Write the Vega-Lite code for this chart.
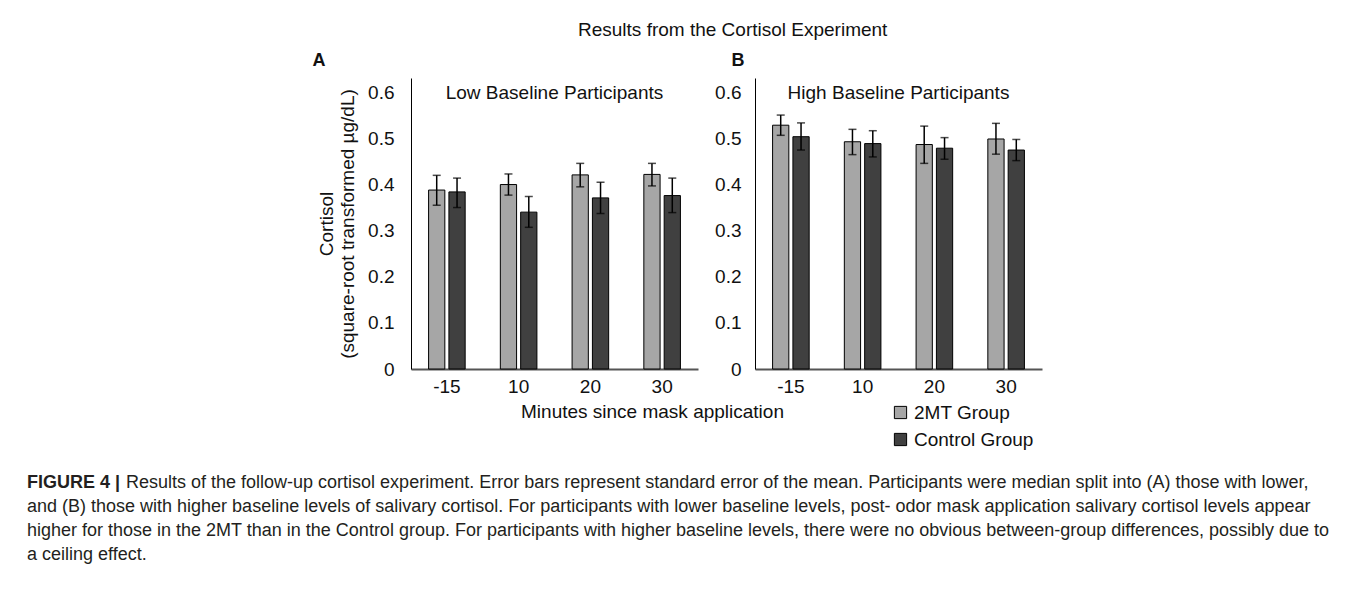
{
  "$schema": "https://vega.github.io/schema/vega-lite/v6.json",
  "background": "white",
  "padding": {"left": 27, "top": 21, "right": 5, "bottom": 5},
  "title": {"text": "Results from the Cortisol Experiment", "fontSize": 19, "fontWeight": "normal", "font": "Liberation Sans", "color": "#111111", "anchor": "start", "dx": 551, "offset": 12},
  "config": {
    "font": "Liberation Sans",
    "view": {"stroke": null},
    "axis": {"grid": false, "ticks": false, "labelFontSize": 19, "labelColor": "#111111", "titleFontSize": 19, "titleFontWeight": "normal", "titleColor": "#111111", "labelFont": "Liberation Sans", "titleFont": "Liberation Sans"},
    "title": {"font": "Liberation Sans", "color": "#111111"}
  },
  "datasets": {
    "bars": [
      {"panel": "A", "time": "-15", "group": "2MT Group", "mean": 0.389, "lo": 0.356, "hi": 0.421},
      {"panel": "A", "time": "-15", "group": "Control Group", "mean": 0.385, "lo": 0.351, "hi": 0.415},
      {"panel": "A", "time": "10", "group": "2MT Group", "mean": 0.401, "lo": 0.378, "hi": 0.424},
      {"panel": "A", "time": "10", "group": "Control Group", "mean": 0.341, "lo": 0.308, "hi": 0.375},
      {"panel": "A", "time": "20", "group": "2MT Group", "mean": 0.422, "lo": 0.396, "hi": 0.447},
      {"panel": "A", "time": "20", "group": "Control Group", "mean": 0.372, "lo": 0.338, "hi": 0.406},
      {"panel": "A", "time": "30", "group": "2MT Group", "mean": 0.423, "lo": 0.398, "hi": 0.447},
      {"panel": "A", "time": "30", "group": "Control Group", "mean": 0.377, "lo": 0.340, "hi": 0.415},
      {"panel": "B", "time": "-15", "group": "2MT Group", "mean": 0.530, "lo": 0.508, "hi": 0.552},
      {"panel": "B", "time": "-15", "group": "Control Group", "mean": 0.505, "lo": 0.476, "hi": 0.535},
      {"panel": "B", "time": "10", "group": "2MT Group", "mean": 0.494, "lo": 0.466, "hi": 0.521},
      {"panel": "B", "time": "10", "group": "Control Group", "mean": 0.490, "lo": 0.461, "hi": 0.518},
      {"panel": "B", "time": "20", "group": "2MT Group", "mean": 0.488, "lo": 0.447, "hi": 0.528},
      {"panel": "B", "time": "20", "group": "Control Group", "mean": 0.480, "lo": 0.456, "hi": 0.503},
      {"panel": "B", "time": "30", "group": "2MT Group", "mean": 0.500, "lo": 0.467, "hi": 0.534},
      {"panel": "B", "time": "30", "group": "Control Group", "mean": 0.476, "lo": 0.453, "hi": 0.499}
    ],
    "caption": [
      {"line": 1, "part": "rest", "text": "Results of the follow-up cortisol experiment. Error bars represent standard error of the mean. Participants were median split into (A) those with lower,"},
      {"line": 2, "part": "full", "text": "and (B) those with higher baseline levels of salivary cortisol. For participants with lower baseline levels, post- odor mask application salivary cortisol levels appear"},
      {"line": 3, "part": "full", "text": "higher for those in the 2MT than in the Control group. For participants with higher baseline levels, there were no obvious between-group differences, possibly due to"},
      {"line": 4, "part": "full", "text": "a ceiling effect."},
      {"line": 1, "part": "head", "text": "FIGURE 4 |"}
    ]
  },
  "vconcat": [
    {
      "title": {"text": "Minutes since mask application", "orient": "bottom", "anchor": "middle", "fontSize": 19, "fontWeight": "normal", "dx": 118, "offset": 7},
      "spacing": 16,
      "hconcat": [
        {
          "width": 269,
          "height": 10,
          "data": {"values": []},
          "mark": "point",
          "encoding": {}
        },
        {
          "title": {"text": "A", "anchor": "start", "fontSize": 18, "fontWeight": "bold", "offset": 8, "dx": -5},
          "vconcat": [
            {
              "width": 287,
              "height": 291,
              "title": {"text": "Low Baseline Participants", "fontSize": 19, "fontWeight": "normal", "anchor": "middle", "frame": "group", "offset": -25},
              "data": {"name": "bars"},
              "transform": [{"filter": "datum.panel === 'A'"}],
              "encoding": {
                "x": {"field": "time", "type": "ordinal", "sort": ["-15", "10", "20", "30"], "scale": {"paddingInner": 0.49, "paddingOuter": 0.245}, "axis": {"title": null, "labelAngle": 0, "domainColor": "#555555", "domainWidth": 2, "labelPadding": 8}},
                "xOffset": {"field": "group", "type": "nominal", "sort": ["2MT Group", "Control Group"], "scale": {"paddingInner": 0.2}}
              },
              "layer": [
                {
                  "mark": {"type": "bar", "stroke": "black", "strokeWidth": 1},
                  "encoding": {
                    "y": {"field": "mean", "type": "quantitative", "scale": {"domain": [0, 0.6326], "nice": false, "zero": true}, "axis": {"values": [0, 0.1, 0.2, 0.3, 0.4, 0.5, 0.6], "format": "~g", "domainColor": "black", "domainWidth": 1, "labelPadding": 17, "titlePadding": 10, "titleLineHeight": 21}, "title": ["Cortisol", "(square-root transformed µg/dL)"]},
                    "color": {"field": "group", "type": "nominal", "scale": {"domain": ["2MT Group", "Control Group"], "range": ["#a6a6a6", "#404040"]}, "legend": {"title": null, "orient": "none", "legendX": 864, "legendY": 325, "symbolType": "square", "symbolSize": 150, "symbolStrokeColor": "black", "symbolStrokeWidth": 1, "labelFontSize": 19, "labelColor": "#111111", "labelFont": "Liberation Sans", "rowPadding": 7, "symbolOpacity": 1}}
                  }
                },
                {
                  "mark": {"type": "rule", "color": "black", "strokeWidth": 1.5},
                  "encoding": {"y": {"field": "lo", "type": "quantitative", "title": ["Cortisol", "(square-root transformed µg/dL)"]}, "y2": {"field": "hi"}}
                },
                {
                  "mark": {"type": "tick", "color": "black", "size": 8, "thickness": 1.5},
                  "encoding": {"y": {"field": "lo", "type": "quantitative", "title": ["Cortisol", "(square-root transformed µg/dL)"]}}
                },
                {
                  "mark": {"type": "tick", "color": "black", "size": 8, "thickness": 1.5},
                  "encoding": {"y": {"field": "hi", "type": "quantitative", "title": ["Cortisol", "(square-root transformed µg/dL)"]}}
                }
              ]
            }
          ]
        },
        {
          "title": {"text": "B", "anchor": "start", "fontSize": 18, "fontWeight": "bold", "offset": 8, "dx": 17},
          "vconcat": [
            {
              "width": 287,
              "height": 291,
              "title": {"text": "High Baseline Participants", "fontSize": 19, "fontWeight": "normal", "anchor": "middle", "frame": "group", "offset": -25},
              "data": {"name": "bars"},
              "transform": [{"filter": "datum.panel === 'B'"}],
              "encoding": {
                "x": {"field": "time", "type": "ordinal", "sort": ["-15", "10", "20", "30"], "scale": {"paddingInner": 0.49, "paddingOuter": 0.245}, "axis": {"title": null, "labelAngle": 0, "domainColor": "#555555", "domainWidth": 2, "labelPadding": 8}},
                "xOffset": {"field": "group", "type": "nominal", "sort": ["2MT Group", "Control Group"], "scale": {"paddingInner": 0.2}}
              },
              "layer": [
                {
                  "mark": {"type": "bar", "stroke": "black", "strokeWidth": 1},
                  "encoding": {
                    "y": {"field": "mean", "type": "quantitative", "scale": {"domain": [0, 0.6326], "nice": false, "zero": true}, "axis": {"values": [0, 0.1, 0.2, 0.3, 0.4, 0.5, 0.6], "format": "~g", "domainColor": "black", "domainWidth": 1, "labelPadding": 14}, "title": null},
                    "color": {"field": "group", "type": "nominal", "scale": {"domain": ["2MT Group", "Control Group"], "range": ["#a6a6a6", "#404040"]}, "legend": {"title": null, "orient": "none", "legendX": 864, "legendY": 325, "symbolType": "square", "symbolSize": 150, "symbolStrokeColor": "black", "symbolStrokeWidth": 1, "labelFontSize": 19, "labelColor": "#111111", "labelFont": "Liberation Sans", "rowPadding": 7, "symbolOpacity": 1}}
                  }
                },
                {
                  "mark": {"type": "rule", "color": "black", "strokeWidth": 1.5},
                  "encoding": {"y": {"field": "lo", "type": "quantitative", "title": null}, "y2": {"field": "hi"}}
                },
                {
                  "mark": {"type": "tick", "color": "black", "size": 8, "thickness": 1.5},
                  "encoding": {"y": {"field": "lo", "type": "quantitative", "title": null}}
                },
                {
                  "mark": {"type": "tick", "color": "black", "size": 8, "thickness": 1.5},
                  "encoding": {"y": {"field": "hi", "type": "quantitative", "title": null}}
                }
              ]
            }
          ]
        }
      ]
    },
    {
      "width": 1305,
      "height": 96,
      "data": {"name": "caption"},
      "encoding": {
        "y": {"field": "line", "type": "ordinal", "axis": null},
        "x": {"value": 0},
        "text": {"field": "text"}
      },
      "layer": [
        {
          "transform": [{"filter": "datum.part === 'full'"}],
          "mark": {"type": "text", "align": "left", "baseline": "middle", "fontSize": 18, "color": "#231f20", "font": "Liberation Sans"}
        },
        {
          "transform": [{"filter": "datum.part === 'rest'"}],
          "mark": {"type": "text", "align": "left", "baseline": "middle", "fontSize": 18, "color": "#231f20", "font": "Liberation Sans", "dx": 99}
        },
        {
          "transform": [{"filter": "datum.part === 'head'"}],
          "mark": {"type": "text", "align": "left", "baseline": "middle", "fontSize": 18, "fontWeight": "bold", "color": "#231f20", "font": "Liberation Sans"}
        }
      ]
    }
  ],
  "spacing": 49
}
